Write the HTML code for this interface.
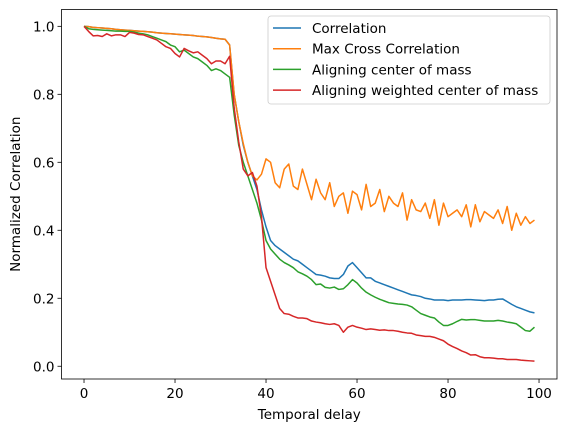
<!DOCTYPE html>
<html><head><meta charset="utf-8"><style>
body{margin:0;background:#fff;font-family:"Liberation Sans","DejaVu Sans",sans-serif;}
svg text{font-family:"DejaVu Sans","Liberation Sans",sans-serif;font-size:13.5px;fill:#000;}
</style></head><body>
<svg id="chart" width="567" height="432" xmlns="http://www.w3.org/2000/svg"></svg>
<script>
const xTicks=[0,20,40,60,80,100];
const yTicks=[0.0,0.2,0.4,0.6,0.8,1.0];
const seriesNames=["Correlation","Max Cross Correlation","Aligning center of mass","Aligning weighted center of mass"];
const correlation=[1.0,0.999,0.997,0.996,0.995,0.994,0.993,0.991,0.990,0.989,0.988,0.987,0.986,0.985,0.984,0.983,0.981,0.980,0.979,0.978,0.977,0.976,0.975,0.974,0.973,0.971,0.970,0.969,0.967,0.965,0.963,0.962,0.945,0.80,0.72,0.65,0.60,0.56,0.52,0.46,0.41,0.37,0.355,0.345,0.335,0.325,0.315,0.31,0.30,0.29,0.28,0.27,0.268,0.265,0.26,0.258,0.258,0.27,0.295,0.305,0.29,0.275,0.26,0.26,0.25,0.245,0.24,0.235,0.23,0.225,0.22,0.215,0.21,0.208,0.205,0.20,0.198,0.195,0.195,0.195,0.193,0.195,0.195,0.195,0.196,0.196,0.195,0.194,0.193,0.195,0.195,0.197,0.198,0.19,0.182,0.175,0.17,0.165,0.16,0.157];
const maxCross=[1.0,0.999,0.997,0.996,0.995,0.994,0.993,0.991,0.990,0.989,0.988,0.987,0.986,0.985,0.984,0.983,0.981,0.980,0.979,0.978,0.977,0.976,0.975,0.974,0.973,0.971,0.970,0.969,0.967,0.965,0.963,0.962,0.945,0.80,0.72,0.655,0.60,0.56,0.548,0.565,0.61,0.60,0.54,0.525,0.58,0.595,0.53,0.52,0.58,0.535,0.49,0.55,0.51,0.49,0.54,0.47,0.50,0.51,0.45,0.515,0.505,0.46,0.535,0.47,0.48,0.52,0.455,0.50,0.48,0.47,0.51,0.43,0.49,0.46,0.455,0.48,0.435,0.49,0.415,0.48,0.44,0.45,0.46,0.44,0.475,0.41,0.475,0.425,0.455,0.445,0.435,0.46,0.42,0.47,0.40,0.45,0.415,0.44,0.42,0.43];
const centerMass=[1.0,0.993,0.991,0.990,0.989,0.988,0.987,0.986,0.986,0.985,0.985,0.983,0.980,0.978,0.975,0.970,0.965,0.960,0.955,0.945,0.94,0.925,0.93,0.92,0.91,0.905,0.895,0.885,0.87,0.875,0.87,0.86,0.85,0.74,0.65,0.60,0.56,0.52,0.48,0.43,0.37,0.345,0.33,0.315,0.305,0.298,0.29,0.278,0.272,0.265,0.255,0.24,0.242,0.232,0.23,0.233,0.226,0.228,0.24,0.255,0.245,0.23,0.218,0.21,0.203,0.197,0.192,0.187,0.185,0.183,0.182,0.18,0.175,0.165,0.155,0.15,0.145,0.142,0.13,0.12,0.12,0.125,0.132,0.138,0.136,0.137,0.137,0.135,0.133,0.133,0.133,0.135,0.133,0.13,0.128,0.125,0.115,0.105,0.103,0.115];
const weightedMass=[1.0,0.985,0.972,0.973,0.97,0.978,0.972,0.975,0.975,0.97,0.982,0.98,0.976,0.975,0.97,0.965,0.96,0.95,0.94,0.935,0.92,0.91,0.935,0.928,0.922,0.925,0.915,0.905,0.89,0.898,0.898,0.89,0.912,0.76,0.66,0.58,0.56,0.57,0.53,0.44,0.29,0.25,0.21,0.17,0.155,0.153,0.147,0.142,0.142,0.14,0.133,0.13,0.128,0.125,0.123,0.125,0.12,0.10,0.115,0.12,0.115,0.112,0.108,0.11,0.108,0.106,0.107,0.105,0.105,0.103,0.10,0.098,0.097,0.092,0.09,0.088,0.088,0.085,0.08,0.075,0.065,0.058,0.052,0.045,0.04,0.033,0.034,0.028,0.025,0.025,0.024,0.022,0.022,0.02,0.02,0.02,0.018,0.017,0.016,0.015];
const colors=["#1f77b4","#ff7f0e","#2ca02c","#d62728"];
const allSeries=[correlation,maxCross,centerMass,weightedMass];

const NS="http://www.w3.org/2000/svg";
const svg=document.getElementById("chart");
const L=61.5,R=557,T=9.5,B=379;
const xMin=-4.95,xMax=103.95,yMin=-0.0375,yMax=1.0495;
const sx=v=>L+(v-xMin)/(xMax-xMin)*(R-L);
const sy=v=>B-(v-yMin)/(yMax-yMin)*(B-T);
function mk(tag,attrs){const e=document.createElementNS(NS,tag);for(const k in attrs)e.setAttribute(k,attrs[k]);svg.appendChild(e);return e;}

xTicks.forEach(t=>{
  const l=mk("line",{x1:sx(t),x2:sx(t),y1:B,y2:B+4,stroke:"#000","stroke-width":0.8});
  
  
  const tx=mk("text",{x:sx(t),y:B+19,"text-anchor":"middle"});tx.textContent=t;
  
  
});
yTicks.forEach(t=>{
  const l=mk("line",{x1:L-4,x2:L,y1:sy(t),y2:sy(t),stroke:"#000","stroke-width":0.8});
  
  
  const tx=mk("text",{x:L-7,y:sy(t)+5,"text-anchor":"end"});tx.textContent=t.toFixed(1);
  
  
});
allSeries.forEach((s,i)=>{
  const p=mk("polyline",{points:s.map((v,j)=>sx(j)+","+sy(v)).join(" "),fill:"none",stroke:colors[i],"stroke-width":1.5,"stroke-linejoin":"round"});
  
  
});
const frame=mk("rect",{x:L,y:T,width:R-L,height:B-T,fill:"none",stroke:"#000","stroke-width":0.8});


const xt=mk("text",{x:(L+R)/2,y:419,"text-anchor":"middle"});xt.textContent="Temporal delay";


const yt=mk("text",{x:0,y:0,"text-anchor":"middle",transform:"translate(20,"+((T+B)/2)+") rotate(-90)"});yt.textContent="Normalized Correlation";


const lg=mk("rect",{x:268,y:16,width:282,height:88,rx:3,fill:"#fff","fill-opacity":0.8,stroke:"#ccc","stroke-width":0.8});


seriesNames.forEach((n,i)=>{
  const y=28+i*20.7;
  const l=mk("line",{x1:273,x2:301,y1:y,y2:y,stroke:colors[i],"stroke-width":1.5});
  
  
  const t=mk("text",{x:312,y:y+5});t.textContent=n;
  
  
});
</script>
</body></html>
